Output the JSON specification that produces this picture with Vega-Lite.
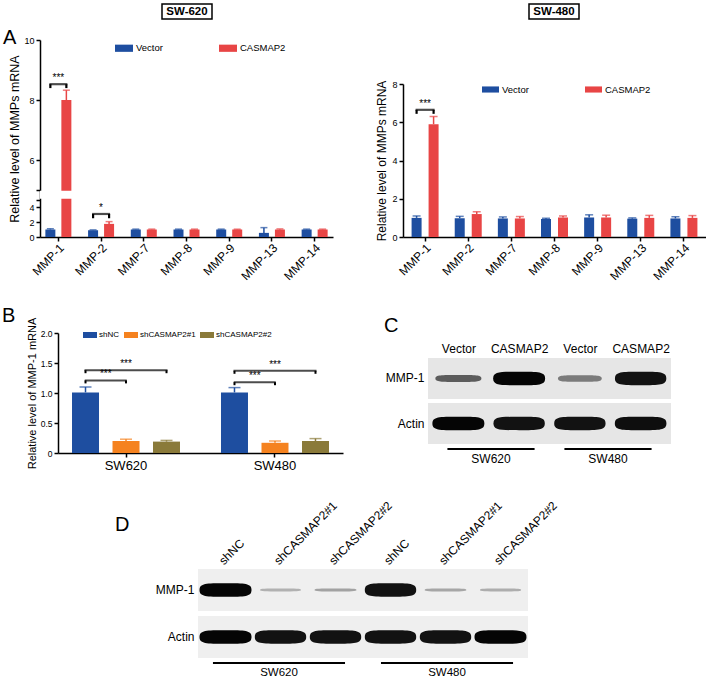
{
  "$schema": "https://vega.github.io/schema/vega-lite/v6.json",
  "autosize": {"type": "pad"},
  "padding": {"left": 0, "top": 3, "right": 0, "bottom": 0},
  "background": "white",
  "config": {
    "font": "Liberation Sans",
    "view": {"stroke": null},
    "axis": {"domainColor": "#000", "tickColor": "#000", "labelColor": "#000", "titleColor": "#000", "domainWidth": 1.5, "tickWidth": 1.5, "grid": false, "titleFontWeight": "normal", "labelFont": "Liberation Sans", "titleFont": "Liberation Sans", "labelOverlap": false},
    "legend": {"labelFont": "Liberation Sans", "labelColor": "#000"},
    "title": {"font": "Liberation Sans", "color": "#000", "fontWeight": "normal", "fontSize": 20, "anchor": "start", "frame": "group", "baseline": "alphabetic", "offset": 0},
    "text": {"font": "Liberation Sans", "color": "#000"}
  },
  "datasets": {
    "a620": [
      {"gene": "MMP-1", "group": "Vector", "value": 1.0, "upper": 1.1},
      {"gene": "MMP-1", "group": "CASMAP2", "value": 8.0, "upper": 8.33},
      {"gene": "MMP-2", "group": "Vector", "value": 0.9, "upper": 0.95},
      {"gene": "MMP-2", "group": "CASMAP2", "value": 1.75, "upper": 2.05},
      {"gene": "MMP-7", "group": "Vector", "value": 1.0, "upper": 1.05},
      {"gene": "MMP-7", "group": "CASMAP2", "value": 1.0, "upper": 1.05},
      {"gene": "MMP-8", "group": "Vector", "value": 1.0, "upper": 1.05},
      {"gene": "MMP-8", "group": "CASMAP2", "value": 1.0, "upper": 1.05},
      {"gene": "MMP-9", "group": "Vector", "value": 1.0, "upper": 1.05},
      {"gene": "MMP-9", "group": "CASMAP2", "value": 1.0, "upper": 1.04},
      {"gene": "MMP-13", "group": "Vector", "value": 0.55, "upper": 1.25},
      {"gene": "MMP-13", "group": "CASMAP2", "value": 1.0, "upper": 1.08},
      {"gene": "MMP-14", "group": "Vector", "value": 1.0, "upper": 1.05},
      {"gene": "MMP-14", "group": "CASMAP2", "value": 1.0, "upper": 1.05}
    ],
    "a620sig": [
      {"gene": "MMP-1", "lo": 8.4, "hi": 8.53, "label": "***"},
      {"gene": "MMP-2", "lo": 2.5, "hi": 3.07, "label": "*"}
    ],
    "a480": [
      {"gene": "MMP-1", "group": "Vector", "value": 1.0, "upper": 1.1},
      {"gene": "MMP-1", "group": "CASMAP2", "value": 5.9, "upper": 6.3},
      {"gene": "MMP-2", "group": "Vector", "value": 0.98, "upper": 1.08},
      {"gene": "MMP-2", "group": "CASMAP2", "value": 1.2, "upper": 1.32},
      {"gene": "MMP-7", "group": "Vector", "value": 0.97, "upper": 1.05},
      {"gene": "MMP-7", "group": "CASMAP2", "value": 0.97, "upper": 1.07},
      {"gene": "MMP-8", "group": "Vector", "value": 0.94, "upper": 0.98},
      {"gene": "MMP-8", "group": "CASMAP2", "value": 1.02, "upper": 1.1},
      {"gene": "MMP-9", "group": "Vector", "value": 1.02, "upper": 1.16},
      {"gene": "MMP-9", "group": "CASMAP2", "value": 1.02, "upper": 1.14},
      {"gene": "MMP-13", "group": "Vector", "value": 0.96, "upper": 1.0},
      {"gene": "MMP-13", "group": "CASMAP2", "value": 1.0, "upper": 1.13},
      {"gene": "MMP-14", "group": "Vector", "value": 0.97, "upper": 1.06},
      {"gene": "MMP-14", "group": "CASMAP2", "value": 1.0, "upper": 1.12}
    ],
    "a480sig": [
      {"gene": "MMP-1", "lo": 6.44, "hi": 6.65, "label": "***"}
    ],
    "b": [
      {"cell": "SW620", "group": "shNC", "value": 1.01, "upper": 1.1},
      {"cell": "SW620", "group": "shCASMAP2#1", "value": 0.2, "upper": 0.23},
      {"cell": "SW620", "group": "shCASMAP2#2", "value": 0.19, "upper": 0.21},
      {"cell": "SW480", "group": "shNC", "value": 1.01, "upper": 1.09},
      {"cell": "SW480", "group": "shCASMAP2#1", "value": 0.17, "upper": 0.2},
      {"cell": "SW480", "group": "shCASMAP2#2", "value": 0.2, "upper": 0.24}
    ],
    "bsig1": [
      {"cell": "SW620", "lo": 1.16, "hi": 1.21, "label": "***"},
      {"cell": "SW480", "lo": 1.13, "hi": 1.18, "label": "***"}
    ],
    "bsig2": [
      {"cell": "SW620", "lo": 1.33, "hi": 1.38, "label": "***"},
      {"cell": "SW480", "lo": 1.32, "hi": 1.37, "label": "***"}
    ],
    "membranes": [
      {"protein": "MMP-1"},
      {"protein": "Actin"}
    ],
    "cblot": [
      {"lane": "SW620 Vector", "protein": "MMP-1", "density": 0.55, "signal": "moderate"},
      {"lane": "SW620 CASMAP2", "protein": "MMP-1", "density": 1.0, "signal": "strong"},
      {"lane": "SW480 Vector", "protein": "MMP-1", "density": 0.4, "signal": "moderate"},
      {"lane": "SW480 CASMAP2", "protein": "MMP-1", "density": 0.95, "signal": "strong"},
      {"lane": "SW620 Vector", "protein": "Actin", "density": 1.0, "signal": "strong"},
      {"lane": "SW620 CASMAP2", "protein": "Actin", "density": 0.95, "signal": "strong"},
      {"lane": "SW480 Vector", "protein": "Actin", "density": 0.95, "signal": "strong"},
      {"lane": "SW480 CASMAP2", "protein": "Actin", "density": 0.97, "signal": "strong"}
    ],
    "dblot": [
      {"lane": "SW620 shNC", "protein": "MMP-1", "density": 1.0, "signal": "strong"},
      {"lane": "SW620 shCASMAP2#1", "protein": "MMP-1", "density": 0.15, "signal": "weak"},
      {"lane": "SW620 shCASMAP2#2", "protein": "MMP-1", "density": 0.22, "signal": "weak"},
      {"lane": "SW480 shNC", "protein": "MMP-1", "density": 0.95, "signal": "strong"},
      {"lane": "SW480 shCASMAP2#1", "protein": "MMP-1", "density": 0.2, "signal": "weak"},
      {"lane": "SW480 shCASMAP2#2", "protein": "MMP-1", "density": 0.17, "signal": "weak"},
      {"lane": "SW620 shNC", "protein": "Actin", "density": 1.0, "signal": "strong"},
      {"lane": "SW620 shCASMAP2#1", "protein": "Actin", "density": 0.95, "signal": "strong"},
      {"lane": "SW620 shCASMAP2#2", "protein": "Actin", "density": 0.95, "signal": "strong"},
      {"lane": "SW480 shNC", "protein": "Actin", "density": 0.95, "signal": "strong"},
      {"lane": "SW480 shCASMAP2#1", "protein": "Actin", "density": 0.95, "signal": "strong"},
      {"lane": "SW480 shCASMAP2#2", "protein": "Actin", "density": 1.0, "signal": "strong"}
    ],
    "cells": [
      {"cell": "SW620", "part": "cell line"},
      {"cell": "SW480", "part": "cell line"}
    ]
  },
  "bounds": "full",
  "spacing": 0,
  "resolve": {"scale": {"color": "independent", "size": "independent", "shape": "independent"}, "legend": {"color": "independent"}},
  "vconcat": [
    {
      "bounds": "flush",
      "spacing": 0,
      "hconcat": [
        {"width": 162, "height": 15, "data": {"values": []}, "mark": "text", "encoding": {}},
        {
          "width": 50, "height": 15,
          "view": {"stroke": "#000", "strokeWidth": 1.5, "fill": "white"},
          "data": {"values": [{"line": "SW-620"}]},
          "mark": {"type": "text", "fontWeight": "bold", "fontSize": 11.5, "color": "#000"},
          "encoding": {"text": {"field": "line"}}
        },
        {"width": 317, "height": 15, "data": {"values": []}, "mark": "text", "encoding": {}},
        {
          "width": 50, "height": 15,
          "view": {"stroke": "#000", "strokeWidth": 1.5, "fill": "white"},
          "data": {"values": [{"line": "SW-480"}]},
          "mark": {"type": "text", "fontWeight": "bold", "fontSize": 11.5, "color": "#000"},
          "encoding": {"text": {"field": "line"}}
        }
      ]
    },
    {
      "bounds": "flush",
      "spacing": 0,
      "resolve": {"scale": {"color": "independent"}, "legend": {"color": "independent"}},
      "hconcat": [
        {"width": 40, "height": 285, "title": {"text": "A", "dx": 3, "dy": 32}, "data": {"values": []}, "mark": "text", "encoding": {}},
        {
          "width": 293, "height": 217,
          "layer": [
            {
              "data": {"name": "a620"},
              "transform": [{"filter": {"field": "group", "equal": "Vector"}}],
              "mark": {"type": "bar", "width": 10, "xOffset": -8},
              "encoding": {
                "x": {"field": "gene", "type": "nominal", "scale": {"domain": ["MMP-1", "MMP-2", "MMP-7", "MMP-8", "MMP-9", "MMP-13", "MMP-14"], "paddingInner": 0.38, "paddingOuter": 0.12}, "axis": {"title": null, "labelAngle": -45, "labelAlign": "right", "labelBaseline": "top", "labelFontSize": 12, "tickSize": 4, "labelPadding": 1}},
                "y": {"field": "value", "type": "quantitative", "scale": {"domain": [0, 5, 5.01, 10], "range": [217, 179.5, 170, 20], "zero": false, "nice": false}, "axis": {"title": "Relative level of MMPs mRNA", "titleFontSize": 12.5, "titlePadding": 2, "values": [0, 2, 4, 5, 5.01, 6, 8, 10], "tickCount": 20, "format": "d", "labelExpr": "datum.value == 5 || datum.value == 5.01 ? '' : datum.label", "labelFontSize": {"condition": {"test": "datum.value == 5 || datum.value == 5.01", "value": 1}, "value": 9}, "tickSize": 4, "labelPadding": 2, "labelFlush": false, "labelOverlap": false}},
                "color": {"field": "group", "type": "nominal", "scale": {"domain": ["Vector", "CASMAP2"], "range": ["#1e4ea0", "#e84545"]}, "legend": {"orient": "none", "legendX": 75, "legendY": 19, "direction": "horizontal", "title": null, "symbolType": "M-1,-0.4H1V0.4H-1Z", "symbolSize": 324, "symbolStrokeWidth": 0, "labelFontSize": 9.5, "columnPadding": 56, "labelOffset": 3}}
              }
            },
            {
              "data": {"name": "a620"},
              "transform": [{"filter": {"field": "group", "equal": "CASMAP2"}}],
              "mark": {"type": "bar", "width": 10, "xOffset": 8},
              "encoding": {
                "x": {"field": "gene", "type": "nominal"},
                "y": {"field": "value", "type": "quantitative"},
                "color": {"field": "group", "type": "nominal"}
              }
            },
            {
              "data": {"name": "a620"},
              "transform": [{"filter": {"field": "group", "equal": "Vector"}}],
              "mark": {"type": "rule", "strokeWidth": 1.5, "xOffset": -8},
              "encoding": {
                "x": {"field": "gene", "type": "nominal"},
                "y": {"field": "value", "type": "quantitative"},
                "y2": {"field": "upper"},
                "color": {"field": "group", "type": "nominal", "legend": null}
              }
            },
            {
              "data": {"name": "a620"},
              "transform": [{"filter": {"field": "group", "equal": "CASMAP2"}}],
              "mark": {"type": "rule", "strokeWidth": 1.5, "xOffset": 8},
              "encoding": {
                "x": {"field": "gene", "type": "nominal"},
                "y": {"field": "value", "type": "quantitative"},
                "y2": {"field": "upper"},
                "color": {"field": "group", "type": "nominal", "legend": null}
              }
            },
            {
              "data": {"name": "a620"},
              "transform": [{"filter": {"field": "group", "equal": "Vector"}}],
              "mark": {"type": "tick", "thickness": 1.5, "size": 7, "xOffset": -8},
              "encoding": {
                "x": {"field": "gene", "type": "nominal"},
                "y": {"field": "upper", "type": "quantitative"},
                "color": {"field": "group", "type": "nominal", "legend": null}
              }
            },
            {
              "data": {"name": "a620"},
              "transform": [{"filter": {"field": "group", "equal": "CASMAP2"}}],
              "mark": {"type": "tick", "thickness": 1.5, "size": 7, "xOffset": 8},
              "encoding": {
                "x": {"field": "gene", "type": "nominal"},
                "y": {"field": "upper", "type": "quantitative"},
                "color": {"field": "group", "type": "nominal", "legend": null}
              }
            },
            {
              "data": {"name": "a620sig"},
              "mark": {"type": "tick", "thickness": 2.2, "size": 18, "color": "#000"},
              "encoding": {
                "x": {"field": "gene", "type": "nominal"},
                "y": {"field": "hi", "type": "quantitative"}
              }
            },
            {
              "data": {"name": "a620sig"},
              "mark": {"type": "rule", "strokeWidth": 2.2, "color": "#000", "xOffset": -8},
              "encoding": {
                "x": {"field": "gene", "type": "nominal"},
                "y": {"field": "lo", "type": "quantitative"},
                "y2": {"field": "hi"}
              }
            },
            {
              "data": {"name": "a620sig"},
              "mark": {"type": "rule", "strokeWidth": 2.2, "color": "#000", "xOffset": 8},
              "encoding": {
                "x": {"field": "gene", "type": "nominal"},
                "y": {"field": "lo", "type": "quantitative"},
                "y2": {"field": "hi"}
              }
            },
            {
              "data": {"name": "a620sig"},
              "mark": {"type": "text", "baseline": "bottom", "fontSize": 10, "dy": -1, "color": "#000"},
              "encoding": {
                "x": {"field": "gene", "type": "nominal"},
                "y": {"field": "hi", "type": "quantitative"},
                "text": {"field": "label"}
              }
            },
            {
              "data": {"values": [{}]},
              "mark": {"type": "rect", "color": "white", "xOffset": -4},
              "encoding": {
                "y": {"datum": 5.0008, "type": "quantitative"},
                "y2": {"datum": 5.0092}
              }
            }
          ]
        },
        {"width": 70, "height": 285, "data": {"values": []}, "mark": "text", "encoding": {}},
        {
          "width": 303, "height": 217,
          "layer": [
            {
              "data": {"name": "a480"},
              "transform": [{"filter": {"field": "group", "equal": "Vector"}}],
              "mark": {"type": "bar", "width": 10, "xOffset": -8.5},
              "encoding": {
                "x": {"field": "gene", "type": "nominal", "scale": {"domain": ["MMP-1", "MMP-2", "MMP-7", "MMP-8", "MMP-9", "MMP-13", "MMP-14"], "paddingInner": 0.376, "paddingOuter": 0.2}, "axis": {"title": null, "labelAngle": -45, "labelAlign": "right", "labelBaseline": "top", "labelFontSize": 12, "tickSize": 4, "labelPadding": 1}},
                "y": {"field": "value", "type": "quantitative", "scale": {"domain": [0, 8], "range": [217, 64], "zero": true, "nice": false}, "axis": {"title": "Relative level of MMPs mRNA", "titleFontSize": 12, "titlePadding": 3, "values": [0, 2, 4, 6, 8], "tickCount": 20, "format": "d", "labelFontSize": 9, "tickSize": 4, "labelPadding": 2, "labelFlush": false}},
                "color": {"field": "group", "type": "nominal", "scale": {"domain": ["Vector", "CASMAP2"], "range": ["#1e4ea0", "#e84545"]}, "legend": {"orient": "none", "legendX": 79, "legendY": 61, "direction": "horizontal", "title": null, "symbolType": "M-1,-0.36H1V0.36H-1Z", "symbolSize": 289, "symbolStrokeWidth": 0, "labelFontSize": 9.5, "columnPadding": 56, "labelOffset": 3}}
              }
            },
            {
              "data": {"name": "a480"},
              "transform": [{"filter": {"field": "group", "equal": "CASMAP2"}}],
              "mark": {"type": "bar", "width": 10, "xOffset": 8.5},
              "encoding": {
                "x": {"field": "gene", "type": "nominal"},
                "y": {"field": "value", "type": "quantitative"},
                "color": {"field": "group", "type": "nominal"}
              }
            },
            {
              "data": {"name": "a480"},
              "transform": [{"filter": {"field": "group", "equal": "Vector"}}],
              "mark": {"type": "rule", "strokeWidth": 1.5, "xOffset": -8.5},
              "encoding": {
                "x": {"field": "gene", "type": "nominal"},
                "y": {"field": "value", "type": "quantitative"},
                "y2": {"field": "upper"},
                "color": {"field": "group", "type": "nominal", "legend": null}
              }
            },
            {
              "data": {"name": "a480"},
              "transform": [{"filter": {"field": "group", "equal": "CASMAP2"}}],
              "mark": {"type": "rule", "strokeWidth": 1.5, "xOffset": 8.5},
              "encoding": {
                "x": {"field": "gene", "type": "nominal"},
                "y": {"field": "value", "type": "quantitative"},
                "y2": {"field": "upper"},
                "color": {"field": "group", "type": "nominal", "legend": null}
              }
            },
            {
              "data": {"name": "a480"},
              "transform": [{"filter": {"field": "group", "equal": "Vector"}}],
              "mark": {"type": "tick", "thickness": 1.5, "size": 8, "xOffset": -8.5},
              "encoding": {
                "x": {"field": "gene", "type": "nominal"},
                "y": {"field": "upper", "type": "quantitative"},
                "color": {"field": "group", "type": "nominal", "legend": null}
              }
            },
            {
              "data": {"name": "a480"},
              "transform": [{"filter": {"field": "group", "equal": "CASMAP2"}}],
              "mark": {"type": "tick", "thickness": 1.5, "size": 8, "xOffset": 8.5},
              "encoding": {
                "x": {"field": "gene", "type": "nominal"},
                "y": {"field": "upper", "type": "quantitative"},
                "color": {"field": "group", "type": "nominal", "legend": null}
              }
            },
            {
              "data": {"name": "a480sig"},
              "mark": {"type": "tick", "thickness": 2.2, "size": 19, "color": "#000"},
              "encoding": {
                "x": {"field": "gene", "type": "nominal"},
                "y": {"field": "hi", "type": "quantitative"}
              }
            },
            {
              "data": {"name": "a480sig"},
              "mark": {"type": "rule", "strokeWidth": 2.2, "color": "#000", "xOffset": -8.5},
              "encoding": {
                "x": {"field": "gene", "type": "nominal"},
                "y": {"field": "lo", "type": "quantitative"},
                "y2": {"field": "hi"}
              }
            },
            {
              "data": {"name": "a480sig"},
              "mark": {"type": "rule", "strokeWidth": 2.2, "color": "#000", "xOffset": 8.5},
              "encoding": {
                "x": {"field": "gene", "type": "nominal"},
                "y": {"field": "lo", "type": "quantitative"},
                "y2": {"field": "hi"}
              }
            },
            {
              "data": {"name": "a480sig"},
              "mark": {"type": "text", "baseline": "bottom", "fontSize": 10, "dy": -1, "color": "#000"},
              "encoding": {
                "x": {"field": "gene", "type": "nominal"},
                "y": {"field": "hi", "type": "quantitative"},
                "text": {"field": "label"}
              }
            }
          ]
        }
      ]
    },
    {
      "bounds": "flush",
      "spacing": 0,
      "resolve": {"scale": {"color": "independent", "size": "independent", "shape": "independent"}, "legend": {"color": "independent"}},
      "hconcat": [
        {"width": 58, "height": 186, "title": {"text": "B", "dx": 2, "dy": 25}, "data": {"values": []}, "mark": "text", "encoding": {}},
        {
          "width": 285, "height": 148,
          "layer": [
            {
              "data": {"name": "b"},
              "transform": [{"filter": {"field": "group", "equal": "shNC"}}],
              "mark": {"type": "bar", "width": 27, "xOffset": -40.5},
              "encoding": {
                "x": {"field": "cell", "type": "nominal", "scale": {"domain": ["SW620", "SW480"], "paddingInner": 0.275, "paddingOuter": 0.094}, "axis": {"title": null, "labelAngle": 0, "labelFontSize": 13, "tickSize": 4, "labelPadding": 2}},
                "y": {"field": "value", "type": "quantitative", "scale": {"domain": [0, 2], "range": [148, 28], "nice": false}, "axis": {"title": "Relative level of MMP-1 mRNA", "titleFontSize": 11, "titlePadding": 3, "values": [0, 0.5, 1, 1.5, 2], "tickCount": 20, "labelExpr": "datum.value == 0 ? '0' : format(datum.value, '.1f')", "labelFontSize": 8.5, "tickSize": 4, "labelPadding": 2, "labelFlush": false}},
                "color": {"field": "group", "type": "nominal", "scale": {"domain": ["shNC", "shCASMAP2#1", "shCASMAP2#2"], "range": ["#1e4ea0", "#f5821f", "#8a7a3a"]}, "legend": {"orient": "none", "legendX": 25, "legendY": 23, "direction": "horizontal", "title": null, "symbolType": "M-1,-0.43H1V0.43H-1Z", "symbolSize": 196, "symbolStrokeWidth": 0, "labelFontSize": 8, "columnPadding": 4, "labelOffset": 2}}
              }
            },
            {
              "data": {"name": "b"},
              "transform": [{"filter": {"field": "group", "equal": "shCASMAP2#1"}}],
              "mark": {"type": "bar", "width": 27, "xOffset": 0},
              "encoding": {
                "x": {"field": "cell", "type": "nominal"},
                "y": {"field": "value", "type": "quantitative"},
                "color": {"field": "group", "type": "nominal"}
              }
            },
            {
              "data": {"name": "b"},
              "transform": [{"filter": {"field": "group", "equal": "shCASMAP2#2"}}],
              "mark": {"type": "bar", "width": 27, "xOffset": 40.5},
              "encoding": {
                "x": {"field": "cell", "type": "nominal"},
                "y": {"field": "value", "type": "quantitative"},
                "color": {"field": "group", "type": "nominal"}
              }
            },
            {
              "data": {"name": "b"},
              "transform": [{"filter": {"field": "group", "equal": "shNC"}}],
              "mark": {"type": "rule", "strokeWidth": 1.5, "xOffset": -40.5},
              "encoding": {
                "x": {"field": "cell", "type": "nominal"},
                "y": {"field": "value", "type": "quantitative"},
                "y2": {"field": "upper"},
                "color": {"field": "group", "type": "nominal", "legend": null}
              }
            },
            {
              "data": {"name": "b"},
              "transform": [{"filter": {"field": "group", "equal": "shCASMAP2#1"}}],
              "mark": {"type": "rule", "strokeWidth": 1.5, "xOffset": 0},
              "encoding": {
                "x": {"field": "cell", "type": "nominal"},
                "y": {"field": "value", "type": "quantitative"},
                "y2": {"field": "upper"},
                "color": {"field": "group", "type": "nominal", "legend": null}
              }
            },
            {
              "data": {"name": "b"},
              "transform": [{"filter": {"field": "group", "equal": "shCASMAP2#2"}}],
              "mark": {"type": "rule", "strokeWidth": 1.5, "xOffset": 40.5},
              "encoding": {
                "x": {"field": "cell", "type": "nominal"},
                "y": {"field": "value", "type": "quantitative"},
                "y2": {"field": "upper"},
                "color": {"field": "group", "type": "nominal", "legend": null}
              }
            },
            {
              "data": {"name": "b"},
              "transform": [{"filter": {"field": "group", "equal": "shNC"}}],
              "mark": {"type": "tick", "thickness": 1.5, "size": 12, "xOffset": -40.5},
              "encoding": {
                "x": {"field": "cell", "type": "nominal"},
                "y": {"field": "upper", "type": "quantitative"},
                "color": {"field": "group", "type": "nominal", "legend": null}
              }
            },
            {
              "data": {"name": "b"},
              "transform": [{"filter": {"field": "group", "equal": "shCASMAP2#1"}}],
              "mark": {"type": "tick", "thickness": 1.5, "size": 12, "xOffset": 0},
              "encoding": {
                "x": {"field": "cell", "type": "nominal"},
                "y": {"field": "upper", "type": "quantitative"},
                "color": {"field": "group", "type": "nominal", "legend": null}
              }
            },
            {
              "data": {"name": "b"},
              "transform": [{"filter": {"field": "group", "equal": "shCASMAP2#2"}}],
              "mark": {"type": "tick", "thickness": 1.5, "size": 12, "xOffset": 40.5},
              "encoding": {
                "x": {"field": "cell", "type": "nominal"},
                "y": {"field": "upper", "type": "quantitative"},
                "color": {"field": "group", "type": "nominal", "legend": null}
              }
            },
            {
              "data": {"name": "bsig1"},
              "mark": {"type": "tick", "thickness": 2, "size": 42, "color": "#000", "xOffset": -20.25},
              "encoding": {
                "x": {"field": "cell", "type": "nominal"},
                "y": {"field": "hi", "type": "quantitative"}
              }
            },
            {
              "data": {"name": "bsig2"},
              "mark": {"type": "tick", "thickness": 2, "size": 83, "color": "#000"},
              "encoding": {
                "x": {"field": "cell", "type": "nominal"},
                "y": {"field": "hi", "type": "quantitative"}
              }
            },
            {
              "data": {"name": "bsig1"},
              "mark": {"type": "rule", "strokeWidth": 2, "color": "#000", "xOffset": -40.5},
              "encoding": {
                "x": {"field": "cell", "type": "nominal"},
                "y": {"field": "lo", "type": "quantitative"},
                "y2": {"field": "hi"}
              }
            },
            {
              "data": {"name": "bsig1"},
              "mark": {"type": "rule", "strokeWidth": 2, "color": "#000", "xOffset": 0},
              "encoding": {
                "x": {"field": "cell", "type": "nominal"},
                "y": {"field": "lo", "type": "quantitative"},
                "y2": {"field": "hi"}
              }
            },
            {
              "data": {"name": "bsig2"},
              "mark": {"type": "rule", "strokeWidth": 2, "color": "#000", "xOffset": -40.5},
              "encoding": {
                "x": {"field": "cell", "type": "nominal"},
                "y": {"field": "lo", "type": "quantitative"},
                "y2": {"field": "hi"}
              }
            },
            {
              "data": {"name": "bsig2"},
              "mark": {"type": "rule", "strokeWidth": 2, "color": "#000", "xOffset": 40.5},
              "encoding": {
                "x": {"field": "cell", "type": "nominal"},
                "y": {"field": "lo", "type": "quantitative"},
                "y2": {"field": "hi"}
              }
            },
            {
              "data": {"name": "bsig2"},
              "mark": {"type": "text", "baseline": "bottom", "fontSize": 10, "dy": -1, "color": "#000"},
              "encoding": {
                "x": {"field": "cell", "type": "nominal"},
                "y": {"field": "hi", "type": "quantitative"},
                "text": {"field": "label"}
              }
            },
            {
              "data": {"name": "bsig1"},
              "mark": {"type": "text", "baseline": "bottom", "fontSize": 10, "dy": -1, "dx": -20.25, "color": "#000"},
              "encoding": {
                "x": {"field": "cell", "type": "nominal"},
                "y": {"field": "hi", "type": "quantitative"},
                "text": {"field": "label"}
              }
            }
          ]
        },
        {"width": 85, "height": 186, "title": {"text": "C", "dx": 41, "dy": 35}, "data": {"values": []}, "mark": "text", "encoding": {}},
        {
          "width": 243, "height": 145,
          "layer": [
            {
              "data": {"name": "membranes"},
              "mark": {"type": "rect", "color": "#e6e6e6"},
              "encoding": {
                "y": {"field": "protein", "type": "nominal", "scale": {"type": "band", "domain": ["MMP-1", "Actin"], "range": [53, 139], "paddingInner": 0.0889, "paddingOuter": 0}, "axis": null}
              }
            },
            {
              "data": {"name": "cblot"},
              "mark": {"type": "point", "filled": true, "opacity": 1},
              "encoding": {
                "x": {"field": "lane", "type": "nominal", "scale": {"domain": ["SW620 Vector", "SW620 CASMAP2", "SW480 Vector", "SW480 CASMAP2"]}, "axis": {"orient": "top", "offset": -53, "title": null, "domain": false, "ticks": false, "labelAngle": 0, "labelBaseline": "bottom", "labelFontSize": 12, "labelPadding": 3, "labelExpr": "split(datum.label, ' ')[1]"}},
                "y": {"field": "protein", "type": "nominal", "scale": {"type": "band", "domain": ["MMP-1", "Actin"], "range": [53, 139], "paddingInner": 0.0889, "paddingOuter": 0}, "axis": {"title": null, "domain": false, "ticks": false, "labelPadding": 4, "labelFontSize": 12}},
                "size": {"field": "density", "type": "quantitative", "scale": {"domain": [0, 1], "range": [1400, 2700]}, "legend": null},
                "color": {"field": "density", "type": "quantitative", "scale": {"domain": [0, 1], "range": ["#d4d4d4", "#050505"]}, "legend": null},
                "shape": {"field": "signal", "type": "nominal", "scale": {"domain": ["strong", "moderate", "weak"], "range": ["M-1,0C-1,-0.26 -0.75,-0.26 0,-0.26C0.75,-0.26 1,-0.26 1,0C1,0.26 0.75,0.26 0,0.26C-0.75,0.26 -1,0.26 -1,0Z", "M-1,0C-1,-0.15 -0.75,-0.15 0,-0.15C0.75,-0.15 1,-0.15 1,0C1,0.15 0.75,0.15 0,0.15C-0.75,0.15 -1,0.15 -1,0Z", "M-1,0C-1,-0.07 -0.75,-0.07 0,-0.07C0.75,-0.07 1,-0.07 1,0C1,0.07 0.75,0.07 0,0.07C-0.75,0.07 -1,0.07 -1,0Z"]}, "legend": null}
              }
            },
            {
              "data": {"name": "cells"},
              "mark": {"type": "rect", "color": "#000"},
              "encoding": {
                "x": {"field": "cell", "type": "nominal", "scale": {"domain": ["SW620", "SW480"], "paddingInner": 0.255, "paddingOuter": 0.166}, "axis": {"orient": "bottom", "title": null, "domain": false, "ticks": false, "labelAngle": 0, "labelFontSize": 12, "labelPadding": 3, "labelBaseline": "top"}},
                "y": {"field": "part", "type": "nominal", "scale": {"type": "band", "range": [143, 145], "paddingInner": 0, "paddingOuter": 0}, "axis": null}
              }
            }
          ],
          "resolve": {"scale": {"x": "independent", "y": "independent"}, "axis": {"x": "independent", "y": "independent"}}
        }
      ]
    },
    {
      "bounds": "flush",
      "spacing": 0,
      "hconcat": [
        {"width": 198, "height": 186, "title": {"text": "D", "dx": 115, "dy": 48}, "data": {"values": []}, "mark": "text", "encoding": {}},
        {
          "width": 330, "height": 173,
          "layer": [
            {
              "data": {"name": "membranes"},
              "mark": {"type": "rect", "color": "#efefef"},
              "encoding": {
                "y": {"field": "protein", "type": "nominal", "scale": {"type": "band", "domain": ["MMP-1", "Actin"], "range": [78, 167], "paddingInner": 0.106, "paddingOuter": 0}, "axis": null}
              }
            },
            {
              "data": {"name": "dblot"},
              "mark": {"type": "point", "filled": true, "opacity": 1},
              "encoding": {
                "x": {"field": "lane", "type": "nominal", "scale": {"domain": ["SW620 shNC", "SW620 shCASMAP2#1", "SW620 shCASMAP2#2", "SW480 shNC", "SW480 shCASMAP2#1", "SW480 shCASMAP2#2"]}, "axis": {"orient": "top", "offset": -78, "title": null, "domain": false, "ticks": false, "labelAngle": -45, "labelAlign": "left", "labelBaseline": "bottom", "labelFontSize": 12, "labelPadding": 2, "labelExpr": "split(datum.label, ' ')[1]"}},
                "y": {"field": "protein", "type": "nominal", "scale": {"type": "band", "domain": ["MMP-1", "Actin"], "range": [78, 167], "paddingInner": 0.106, "paddingOuter": 0}, "axis": {"title": null, "domain": false, "ticks": false, "labelPadding": 4, "labelFontSize": 12}},
                "size": {"field": "density", "type": "quantitative", "scale": {"domain": [0, 1], "range": [1500, 2700]}, "legend": null},
                "color": {"field": "density", "type": "quantitative", "scale": {"domain": [0, 1], "range": ["#d4d4d4", "#050505"]}, "legend": null},
                "shape": {"field": "signal", "type": "nominal", "scale": {"domain": ["strong", "moderate", "weak"], "range": ["M-1,0C-1,-0.26 -0.75,-0.26 0,-0.26C0.75,-0.26 1,-0.26 1,0C1,0.26 0.75,0.26 0,0.26C-0.75,0.26 -1,0.26 -1,0Z", "M-1,0C-1,-0.15 -0.75,-0.15 0,-0.15C0.75,-0.15 1,-0.15 1,0C1,0.15 0.75,0.15 0,0.15C-0.75,0.15 -1,0.15 -1,0Z", "M-1,0C-1,-0.07 -0.75,-0.07 0,-0.07C0.75,-0.07 1,-0.07 1,0C1,0.07 0.75,0.07 0,0.07C-0.75,0.07 -1,0.07 -1,0Z"]}, "legend": null}
              }
            },
            {
              "data": {"name": "cells"},
              "mark": {"type": "rect", "color": "#000"},
              "encoding": {
                "x": {"field": "cell", "type": "nominal", "scale": {"domain": ["SW620", "SW480"], "paddingInner": 0.214, "paddingOuter": 0.089}, "axis": {"orient": "bottom", "title": null, "domain": false, "ticks": false, "labelAngle": 0, "labelFontSize": 11.5, "labelPadding": 2, "labelBaseline": "top"}},
                "y": {"field": "part", "type": "nominal", "scale": {"type": "band", "range": [171, 173], "paddingInner": 0, "paddingOuter": 0}, "axis": null}
              }
            }
          ],
          "resolve": {"scale": {"x": "independent", "y": "independent"}, "axis": {"x": "independent", "y": "independent"}}
        }
      ]
    }
  ]
}
